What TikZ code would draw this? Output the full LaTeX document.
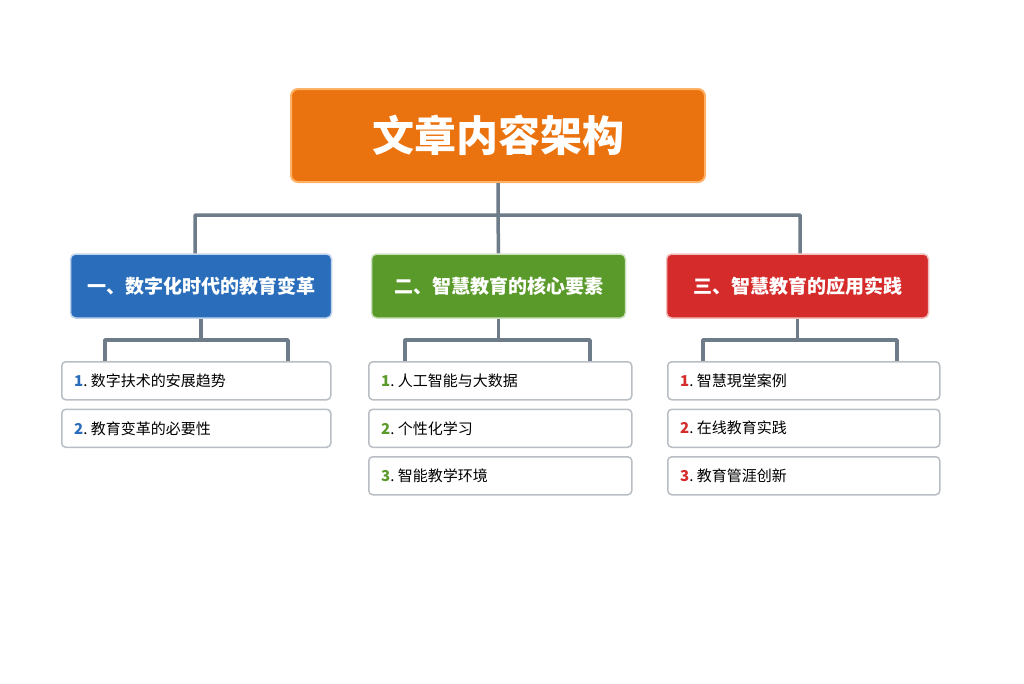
\documentclass[tikz,border=0pt]{standalone}
\usepackage{fontspec}
\setmainfont{Noto Sans CJK SC}
\newfontfamily\cjkb[BoldFont={* Bold}]{Noto Sans CJK SC}
\definecolor{orng}{HTML}{EB730F}
\definecolor{bl}{HTML}{2A6EBB}
\definecolor{gr}{HTML}{5A9A2A}
\definecolor{rd}{HTML}{D52B2B}
\definecolor{ln}{HTML}{6E7B88}
\definecolor{ibd}{HTML}{B8BEC4}
\begin{document}
\begin{tikzpicture}[x=1pt,y=-1pt,
  conn/.style={draw=ln,line width=3.5pt,line join=round},
  head/.style={rounded corners=5pt,draw=white!70!#1,line width=1.5pt,fill=#1,text=white,font=\bfseries\fontsize{19}{22}\selectfont,inner sep=0pt,minimum height=64pt},
  item/.style={rounded corners=4pt,draw=ibd,line width=1.5pt,fill=white,font=\fontsize{15}{18}\selectfont,anchor=north west,inner sep=0pt,minimum height=38pt,text depth=0pt}]
\useasboundingbox (0,0) rectangle (1024,683);
\node[rounded corners=7pt,draw=orange!60!white,line width=2pt,fill=orng,text=white,font=\bfseries\fontsize{42}{48}\selectfont,minimum width=414pt,minimum height=93pt] (root) at (498,135.5) {文章内容架构};
\node[head=bl,minimum width=261pt] (h1) at (201,286) {一、数字化时代的教育变革};
\node[head=gr,minimum width=254pt] (h2) at (498.5,286) {二、智慧教育的核心要素};
\node[head=rd,minimum width=262pt] (h3) at (797.5,286) {三、智慧教育的应用实践};
\coordinate (b1) at (195,215); \coordinate (b3) at (800,215);
\draw[conn] (root.south) -- (498,215) (h1.north -| b1) -- (b1) -- (b3) -- (h3.north -| b3) (498,215) -- (h2.north);
% items
\foreach \n/\x/\w/\c/\lst in {1/61/269/bl/{数字扶术的安展趋势,教育变革的必要性},2/368/263/gr/{人工智能与大数据,个性化学习,智能教学环境},3/667/272/rd/{智慧現堂案例,在线教育实践,教育管涯创新}}{
  \foreach \t [count=\i] in \lst {
    \node[item,minimum width=\w pt] (i\n\i) at (\x,{361+(\i-1)*47.5}) {};
    \node[anchor=west,font=\fontsize{15}{18}\selectfont,inner sep=0pt] (t\n\i) at ([xshift=13pt]i\n\i.west) {\textcolor{\c}{\bfseries\i}.~\t};
  }
}
\foreach \n/\a/\b in {1/105/288,2/405/590,3/703/897}{
  \coordinate (l\n) at (\a,340); \coordinate (r\n) at (\b,340);
  \draw[conn] (h\n.south) -- (h\n.south |- l\n);
  \draw[conn] (i\n1.north -| l\n) -- (l\n) -- (r\n) -- (i\n1.north -| r\n);
}
\end{tikzpicture}
\end{document}
